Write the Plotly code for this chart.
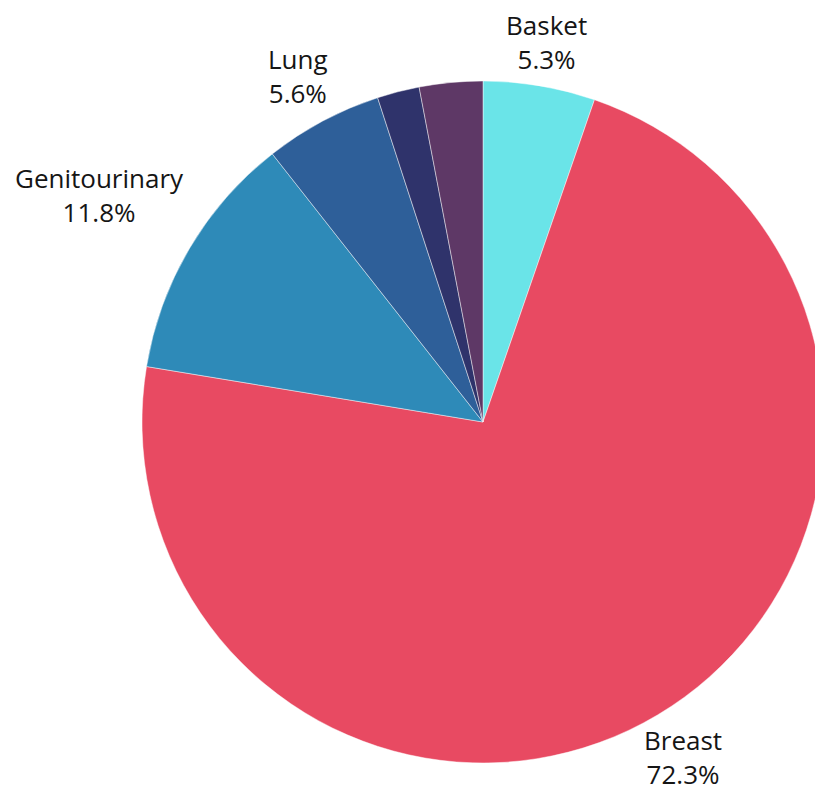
import math
import plotly.graph_objects as go

labels = ["Basket", "Breast", "Genitourinary", "Lung", "Colorectal", "Other"]
values = [5.3, 72.3, 11.8, 5.6, 2.0, 3.0]
colors = ["#6AE4E8", "#E84A62", "#2E8AB8", "#2E5F99", "#2F336B", "#5E3866"]
show_text = [True, True, True, True, False, False]
# radial distance of each label centre, as a multiple of the pie radius (style)
label_dist = [1.13, 1.145, 1.305, 1.15, 1.0, 1.0]

fig = go.Figure(go.Pie(
    labels=labels,
    values=values,
    sort=False,
    direction="clockwise",
    rotation=0,
    marker=dict(colors=colors, line=dict(color="rgba(255,255,255,0.45)", width=1)),
    textinfo="none",
    hoverinfo="label+percent",
    showlegend=False,
    domain=dict(x=[0, 1], y=[0, 1]),
))

total = sum(values)
cum = 0.0
annotations = []
for lab, v, show, k in zip(labels, values, show_text, label_dist):
    mid = (cum + v / 2) / total * 2 * math.pi
    cum += v
    if not show:
        continue
    x = 0.5 + 0.5 * k * math.sin(mid)
    y = 0.5 + 0.5 * k * math.cos(mid)
    annotations.append(dict(
        x=x, y=y, xref="paper", yref="paper",
        text=f"{lab}<br>{v / total * 100:.1f}%",
        showarrow=False, xanchor="center", yanchor="middle", align="center",
        font=dict(family="Open Sans, sans-serif", size=26, color="#151515"),
    ))

fig.update_layout(
    width=824,
    height=794,
    margin=dict(l=142, r=0, t=81, b=31),
    paper_bgcolor="white",
    plot_bgcolor="white",
    annotations=annotations,
)

fig.write_html(
    "out.html",
    config={"displayModeBar": False},
    post_script="document.body.style.margin='0';document.body.style.overflow='hidden';",
)
